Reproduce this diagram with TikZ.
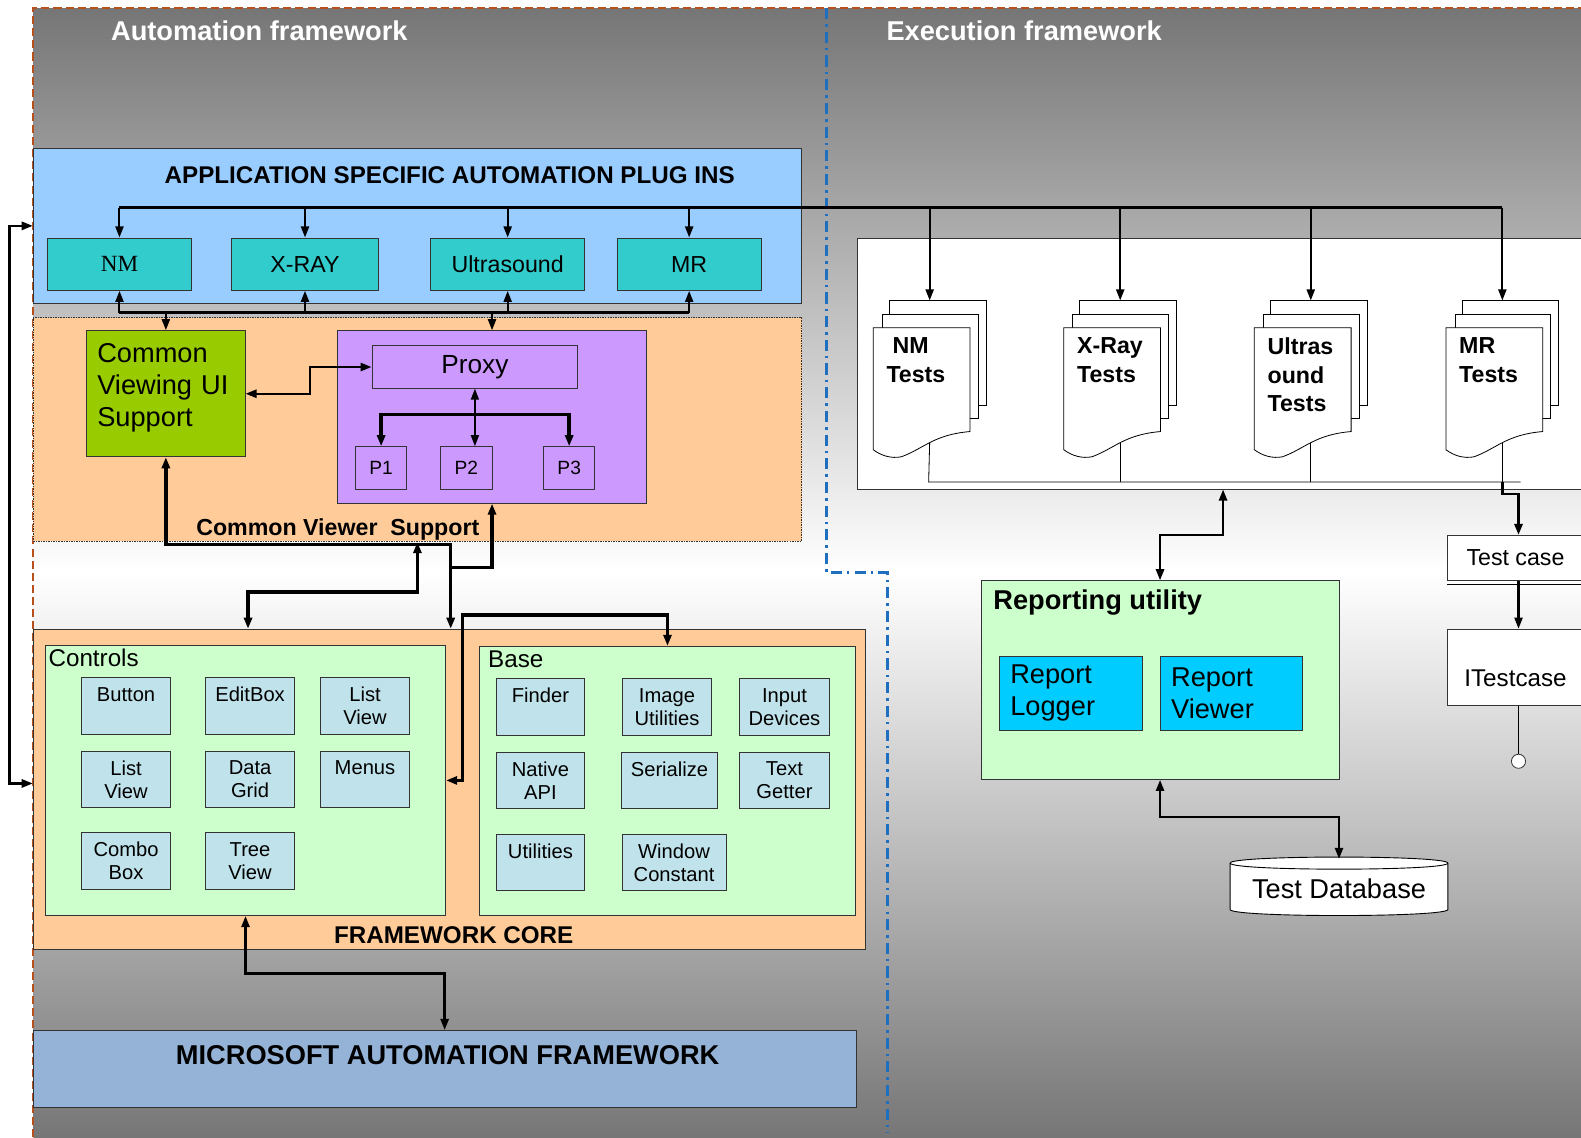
\documentclass[tikz,border=0pt]{standalone}
\usepackage{fontspec}
\setmainfont{Liberation Sans}
\newfontfamily\serifface{Liberation Serif}
\usetikzlibrary{arrows.meta,positioning,calc}
\definecolor{cFrame}{HTML}{B8501E}
\definecolor{cDivide}{HTML}{1F6FC0}
\definecolor{cShade}{HTML}{767676}
\definecolor{cPlug}{HTML}{99CCFF}
\definecolor{cModality}{HTML}{33CCCC}
\definecolor{cViewer}{HTML}{FFCC99}
\definecolor{cUI}{HTML}{99CC00}
\definecolor{cProxy}{HTML}{CC99FF}
\definecolor{cGroup}{HTML}{CCFFCC}
\definecolor{cItem}{HTML}{C0E2EA}
\definecolor{cMSAF}{HTML}{95B3D7}
\definecolor{cReport}{HTML}{00CCFF}
\definecolor{cEdge}{HTML}{333333}
\newcommand{\fsz}[2]{\fontsize{#1pt}{#2pt}\selectfont}
\tikzset{
  boxsize/.style 2 args={minimum width=#1pt, minimum height=#2pt},
  panel/.style   ={draw=cEdge, line width=0.9pt, inner sep=0pt},
  modality/.style={panel, fill=cModality, font=\fsz{23}{27}},
  item/.style    ={panel, fill=cItem, font=\fsz{20}{23}, align=center, boxsize={88}{56}},
  group/.style   ={panel, fill=cGroup},
  heading/.style ={font=\bfseries\fsz{24}{28}, inner sep=0pt},
  title/.style   ={font=\bfseries\fsz{27}{30}, text=white, inner sep=0pt, anchor=west},
  caption/.style ={font=\fsz{24}{28}, inner sep=0pt, anchor=west},
  doctext/.style ={font=\bfseries\fsz{23}{28}, align=left, anchor=north west, inner sep=0pt},
  page/.style    ={draw=black, line width=0.8pt, fill=white},
  frame/.style   ={draw=cFrame, line width=1.6pt, dash pattern=on 8pt off 4pt},
  divider/.style ={draw=cDivide, line width=2.8pt, dash pattern=on 11pt off 5pt on 2.5pt off 5pt},
  wire/.style    ={draw=black, line width=0.8pt},
  link/.style    ={-{Triangle[length=11pt,width=8pt]}, line width=2pt},
  dlink/.style   ={{Triangle[length=11pt,width=8pt]}-{Triangle[length=11pt,width=8pt]}, line width=2.4pt},
  heavy/.style   ={line width=3.4pt},
  testdoc/.pic={
    \draw[page] (16,-27) rectangle (112,77);
    \draw[page] (9,-13) rectangle (104,90);
    \draw[page] (0,0) -- (96,0) -- (96,103) .. controls (60,106) and (50,120) .. (28,128)
                .. controls (18,130) and (8,127) .. (0,121) -- cycle;
    \coordinate (-top) at (56,-27);
    \coordinate (-tail) at (56,114);
  },
}
\begin{document}
\begin{tikzpicture}[x=1pt, y=-1pt]
  \useasboundingbox (0,0) rectangle (1568,1128);
  \clip (0,0) rectangle (1568,1128);
  % backdrop
  \shade[top color=cShade, bottom color=cShade, middle color=white] (33,8) rectangle (1568,1128);
  \draw[frame] (33,1128) -- (33,8) -- (1568,8);
  \draw[divider] (820,8) -- (820,568) -- (880,568) -- (880,1124);
  \node[title] (autotitle) at (110,31) {Automation framework};
  \node[title] (exectitle) at (879,31) {Execution framework};

  % plug ins
  \node[panel, fill=cPlug, boxsize={762}{154}] (plug) at (414,224) {};
  \node[heading] (plugtitle) at (446,174) {APPLICATION SPECIFIC AUTOMATION PLUG INS};
  \node[modality, boxsize={143}{52}, font=\serifface\fsz{23}{27}] (nm) at (118.5,262) {NM};
  \node[modality, boxsize={145}{52}] (xray) at (302.5,262) {X-RAY};
  \node[modality, boxsize={153}{52}] (us) at (503.5,262) {Ultrasound};
  \node[modality, boxsize={143}{52}] (mr) at (683.5,262) {MR};

  % common viewer support
  \node[panel, fill=cViewer, dash pattern=on 1.5pt off 1pt, line width=1.2pt, boxsize={762}{222}] (cvs) at (414,426) {};
  \node[heading, font=\bfseries\fsz{23}{27}] (cvstitle) at (335,525) {Common Viewer\ \ Support};
  \node[panel, fill=cUI, boxsize={157}{125}, align=left, text width=136pt, font=\fsz{27}{31.5}] (cvui) at (164.5,390.5)
       {Common\\Viewing UI\\Support\\[-14pt]\mbox{}};
  \node[panel, fill=cProxy, boxsize={306}{171}] (proxyarea) at (488,413.5) {};
  \node[panel, fill=cProxy, boxsize={204}{42}, font=\fsz{26}{30}] (proxy) at (471,364) {Proxy};
  \node[panel, fill=cProxy, boxsize={50}{42}, font=\fsz{19}{22}] (p1) at (378,464) {P1};
  \node[panel, fill=cProxy, boxsize={51}{42}, font=\fsz{19}{22}] (p2) at (462.5,464) {P2};
  \node[panel, fill=cProxy, boxsize={51}{42}, font=\fsz{19}{22}] (p3) at (564.5,464) {P3};

  % framework core
  \node[panel, fill=cViewer, boxsize={825}{318}] (core) at (445.5,783) {};
  \node[heading] (coretitle) at (450,927) {FRAMEWORK CORE};
  \node[group, boxsize={397}{268}] (controls) at (243.5,774) {};
  \node[caption] (controlstitle) at (48,652) {Controls};
  \node[group, boxsize={372}{267}] (base) at (662,774.5) {};
  \node[caption] (basetitle) at (484,654) {Base};
  \node[item] (button)   at (125,700) {Button\\\mbox{}};
  \node[item] (editbox)  at (248,700) {EditBox\\\mbox{}};
  \node[item] (listview) at (362,700) {List\\View};
  \node[item] (listview2) at (125,773) {List\\View};
  \node[item] (datagrid) at (248,773) {Data\\Grid};
  \node[item] (menus)    at (362,773) {Menus\\\mbox{}};
  \node[item] (combo)    at (125,854) {Combo\\Box};
  \node[item] (treeview) at (248,854) {Tree\\View};
  \node[item] (finder)   at (536,701) {Finder\\\mbox{}};
  \node[item, boxsize={89}{56}] (imageutil) at (661.5,701) {Image\\Utilities};
  \node[item, boxsize={90}{56}] (input)     at (778,701) {Input\\Devices};
  \node[item] (native)   at (536,774) {Native\\API};
  \node[item, boxsize={96}{56}] (serialize) at (664,774) {Serialize\\\mbox{}};
  \node[item, boxsize={90}{56}] (textget)   at (778,774) {Text\\Getter};
  \node[item, boxsize={88}{55}] (utilities) at (536,855.5) {Utilities\\\mbox{}};
  \node[item, boxsize={103}{55}] (window)   at (668.5,855.5) {Window\\Constant};

  % microsoft layer
  \node[panel, fill=cMSAF, boxsize={816}{76}] (ms) at (441,1060) {};
  \node[heading, font=\bfseries\fsz{27}{30}] (mstitle) at (444,1046) {MICROSOFT AUTOMATION FRAMEWORK};

  % execution side
  \node[panel, fill=white, boxsize={726}{249}] (suite) at (1213,360.5) {};
  \pic (nmdoc) at (866,325) {testdoc};
  \pic (xraydoc) at (1055,325) {testdoc};
  \pic (usdoc) at (1244,325) {testdoc};
  \pic (mrdoc) at (1434,325) {testdoc};
  \node[doctext] (nmtxt) at (879,335) {\hspace*{6pt}NM\\Tests};
  \node[doctext] (xraytxt) at (1068,335) {X-Ray\\Tests};
  \node[doctext] (ustxt) at (1257,335) {Ultras\\ound\\Tests};
  \node[doctext] (mrtxt) at (1447,335) {MR\\Tests};
  \node[panel, fill=white, boxsize={140}{45}, font=\fsz{23}{27}] (tcase) at (1506,553.5) {Test case\hspace*{6pt}};
  \node[panel, fill=white, boxsize={140}{76}, font=\fsz{24}{28}, text height=42pt, text depth=4pt] (itc) at (1506,662) {ITestcase\hspace*{6pt}};
  \node[draw=cEdge, line width=0.8pt, fill=white, circle, minimum size=14pt, inner sep=0pt] (iface) at (1506,755) {};
  \node[group, boxsize={355}{197}] (ru) at (1150.5,674.5) {};
  \node[heading, anchor=west, font=\bfseries\fsz{27}{30}] (rutitle) at (985,598) {Reporting utility};
  \node[panel, fill=cReport, boxsize={142}{73}, align=left, text width=120pt, font=\fsz{27}{32}] (logger) at (1062,687.5) {Report\\Logger};
  \node[panel, fill=cReport, boxsize={141}{73}, align=left, text width=120pt, font=\fsz{27}{32}] (viewer) at (1221.5,687.5) {Report\\Viewer};
  \draw[page, line width=0.9pt] (1220,856) .. controls (1220,848) and (1436,848) .. (1436,856) -- (1436,902)
        .. controls (1436,910) and (1220,910) .. (1220,902) -- cycle;
  \draw[page, line width=0.9pt, fill=none] (1220,856) .. controls (1220,864) and (1436,864) .. (1436,856);
  \node[boxsize={216}{58}, inner sep=0pt, font=\fsz{27}{30}] (db) at (1328,881) {Test Database};

  % connectors
  \coordinate (bustop) at (118,206);
  \draw[line width=2.6pt] (bustop) -- (bustop -| mrdoc-top);
  \foreach \m in {nm,xray,us,mr} \draw[link] (bustop -| \m.north) -- (\m.north);
  \foreach \d in {nmdoc,xraydoc,usdoc,mrdoc} \draw[link] (bustop -| \d-top) -- (\d-top);
  \coordinate (busbot) at (118,310);
  \draw[line width=2.4pt] (busbot) -- (busbot -| mr.south);
  \foreach \m in {nm,xray,us,mr} \draw[link] (busbot -| \m.south) -- (\m.south);
  \draw[link] (busbot -| cvui.north) -- (cvui.north);
  \draw[link] (busbot -| proxyarea.north) -- (proxyarea.north);
  \draw[dlink] (plug.west) -- ++(-23,0) |- ([yshift=6pt]core.west);
  \draw[dlink] (cvui.east) -- ++(64,0) |- (proxy.west);
  \draw[dlink, line width=1.6pt] (proxy.south) -- (proxy.south |- p2.north);
  \coordinate (pbus) at (471,411);
  \draw[link, heavy] (pbus) -| (p1.north);
  \draw[link, heavy] (pbus) -| (p3.north);
  \coordinate (cvsjoin) at (447,540);
  \draw[dlink, heavy] (cvui.south) |- (cvsjoin) -- (cvsjoin |- core.north);
  \coordinate (proxyjoin) at (447,563);
  \draw[link, heavy] (proxyjoin) -| (proxyarea.south);
  \coordinate (ctrlbend) at (246,587);
  \draw[dlink, heavy] (cvs.south) |- (ctrlbend) -- (ctrlbend |- core.north);
  \draw[dlink, heavy] (controls.east) -- ++(16,0) -- ++(0,-164) -| (base.north);
  \draw[dlink] (controls.south) -- ++(0,57) -| (ms.north);
  \coordinate (tailbus) at (921,478);
  \coordinate (tailend) at (1508,478);
  \draw[wire] (nmdoc-tail) -- (tailbus) -- (tailend);
  \foreach \d in {xraydoc,usdoc,mrdoc} \draw[wire] (\d-tail) -- (\d-tail |- tailbus);
  \draw[link, line width=2.6pt] (mrdoc-tail |- tailbus) -- ++(0,12) -| (tcase.north);
  \draw[wire] ([yshift=-3pt]tcase.south west) -- ([yshift=-3pt]tcase.south east);
  \draw[link] (tcase.south) -- (itc.north);
  \draw[wire] (itc.south) -- (iface.north);
  \draw[dlink] (ru.north) -- ++(0,-45) -| (suite.south);
  \draw[dlink] (ru.south) -- ++(0,37) -| (db.north);
\end{tikzpicture}
\end{document}
